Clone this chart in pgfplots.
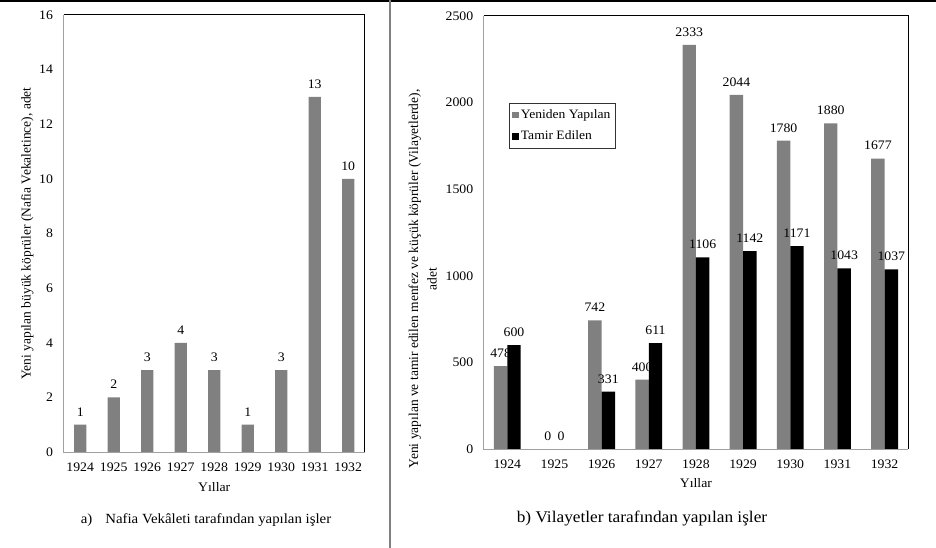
\documentclass[border=0pt]{standalone}
\usepackage{fontspec}
\setmainfont{Liberation Serif}[FakeStretch=1.06]
\newfontfamily\rotfont{Liberation Serif}
\usepackage{pgfplots}
\pgfplotsset{compat=1.18}
\definecolor{bargray}{HTML}{808080}
\definecolor{spinegray}{HTML}{A0A0A0}
\newcommand{\tfont}{\fontsize{13}{15}\selectfont}
\pgfplotsset{
 common/.style={
  scale only axis,
  axis line style={draw=none},
  tick style={draw=none},
  major tick length=0pt,
  xmin=1923.5, xmax=1932.5,
  xtick={1924,...,1932},
  /pgf/number format/1000 sep={},
  /pgf/number format/assume math mode=true,
  tick label style={font=\tfont},
  xticklabel style={yshift=-7pt},
  yticklabel style={xshift=-7pt},
  nodes near coords,
  nodes near coords style={font=\tfont, text=black, yshift=5pt},
  clip=false,
  xlabel={Yıllar},
  xlabel style={font=\tfont, anchor=center},
  ymin=0,
  after end axis/.code={
    \draw[spinegray, line width=1pt] (rel axis cs:0,1) -- (rel axis cs:0,0) -- (rel axis cs:1,0);
    \draw[black, line width=1pt] (rel axis cs:0,1) -- (rel axis cs:1,1) -- (rel axis cs:1,0);
  },
 }
}
\begin{document}
\begin{tikzpicture}
\path[use as bounding box] (0,0) rectangle (936pt,-548pt);
\draw[black, line width=1.5pt] (0,-1pt) -- (936pt,-1pt);
\draw[bargray, line width=1.3pt] (390pt,0) -- (390pt,-548pt);

\begin{axis}[common,
  at={(63.5pt,-452pt)}, anchor=south west,
  width=301.5pt, height=437pt,
  ymax=16, ytick={0,2,...,16},
  ybar, bar width=0.37,
  xlabel style={at={(axis description cs:0.5,-0.08)}},
  ylabel={Yeni yapılan büyük köprüler (Nafia Vekaletince), adet},
  ylabel style={font=\rotfont\fontsize{13.5}{16}\selectfont, at={(axis description cs:-0.12,0.5)}, anchor=center},
]
\addplot[fill=bargray, draw=none] coordinates {
 (1924,1) (1925,2) (1926,3) (1927,4) (1928,3) (1929,1) (1930,3) (1931,13) (1932,10)};
\end{axis}

\begin{axis}[common,
  at={(483.7pt,-449pt)}, anchor=south west,
  width=424.5pt, height=433pt,
  ymax=2500, ytick={0,500,...,2500},
  ybar=0pt, bar width=0.284,
  xlabel style={at={(axis description cs:0.5,-0.0785)}},
  ylabel={Yeni yapılan ve tamir edilen menfez ve küçük köprüler (Vilayetlerde),\\adet},
  ylabel style={font=\rotfont\fontsize{13.5}{18.5}\selectfont, align=center, at={(axis description cs:-0.144,0.393)}, anchor=center},
  legend image code/.code={\fill[#1] (0pt,-3.2pt) rectangle (6.5pt,3.2pt);},
  legend cell align=left,
  legend style={at={(axis description cs:0.06,0.799)}, anchor=north west, draw=black!80, font=\fontsize{12.8}{15}\selectfont, row sep=7pt, inner xsep=3pt, inner ysep=4.5pt},
]
\addplot[fill=bargray, draw=none] coordinates {
 (1924,478) (1925,0) (1926,742) (1927,400) (1928,2333) (1929,2044) (1930,1780) (1931,1880) (1932,1677)};
\addplot[fill=black, draw=none] coordinates {
 (1924,600) (1925,0) (1926,331) (1927,611) (1928,1106) (1929,1142) (1930,1171) (1931,1043) (1932,1037)};
\legend{Yeniden Yapılan, Tamir Edilen}
\end{axis}

\node[font=\fontsize{14}{16}\selectfont] at (206pt,-520pt) {a)\hspace{13pt}Nafia Vekâleti tarafından yapılan işler};
\node[font=\fontsize{16.3}{18}\selectfont] at (642pt,-519pt) {b) Vilayetler tarafından yapılan işler};
\end{tikzpicture}
\end{document}
